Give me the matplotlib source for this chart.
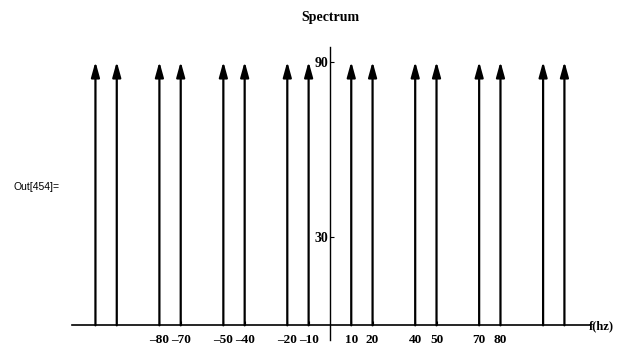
import matplotlib.pyplot as plt

# spectrum lines (Hz) and their height
freqs = [-110, -100, -80, -70, -50, -40, -20, -10, 10, 20, 40, 50, 70, 80, 100, 110]
amps = [90] * len(freqs)

xticks = [-80, -70, -50, -40, -20, -10, 10, 20, 40, 50, 70, 80]
yticks = [30, 90]

serif = "Liberation Serif"

fig = plt.figure(figsize=(6.17, 3.53), dpi=100)
ax = fig.add_axes([72 / 617, 13 / 353, 518 / 617, 293 / 353])

for f, a in zip(freqs, amps):
    ax.annotate("", xy=(f, a), xytext=(f, 0),
                arrowprops=dict(arrowstyle="-|>,head_length=0.65,head_width=0.18",
                                lw=1.6, color="black", mutation_scale=14,
                                shrinkA=0, shrinkB=0))

ax.set_xlim(-121, 122)
ax.set_ylim(-5, 95)

ax.spines["left"].set_position(("data", 0))
ax.spines["bottom"].set_position(("data", 0))
ax.spines["right"].set_visible(False)
ax.spines["top"].set_visible(False)
ax.spines["left"].set_linewidth(1.0)
ax.spines["bottom"].set_linewidth(1.2)

ax.set_xticks(xticks)
ax.set_xticklabels([str(t).replace("-", "\u2013") for t in xticks],
                   fontfamily=serif, fontweight="bold", fontsize=9.5)
ax.set_yticks(yticks)
ax.set_yticklabels([str(t) for t in yticks], fontfamily=serif,
                   fontweight="bold", fontsize=10)
ax.tick_params(axis="x", direction="in", length=3, pad=6)
ax.tick_params(axis="y", direction="in", length=3, pad=1)

fig.text(330 / 617, 1 - 17 / 353, "Spectrum", ha="center", va="center",
         fontfamily=serif, fontweight="bold", fontsize=10)
fig.text(614 / 617, 1 - 326 / 353, "f(hz)", ha="right", va="center",
         fontfamily=serif, fontweight="bold", fontsize=9)
fig.text(14 / 617, 1 - 187 / 353, "Out[454]=", ha="left", va="center",
         fontfamily="Liberation Sans", fontsize=7.5)

fig.savefig("out.png", dpi=100)
